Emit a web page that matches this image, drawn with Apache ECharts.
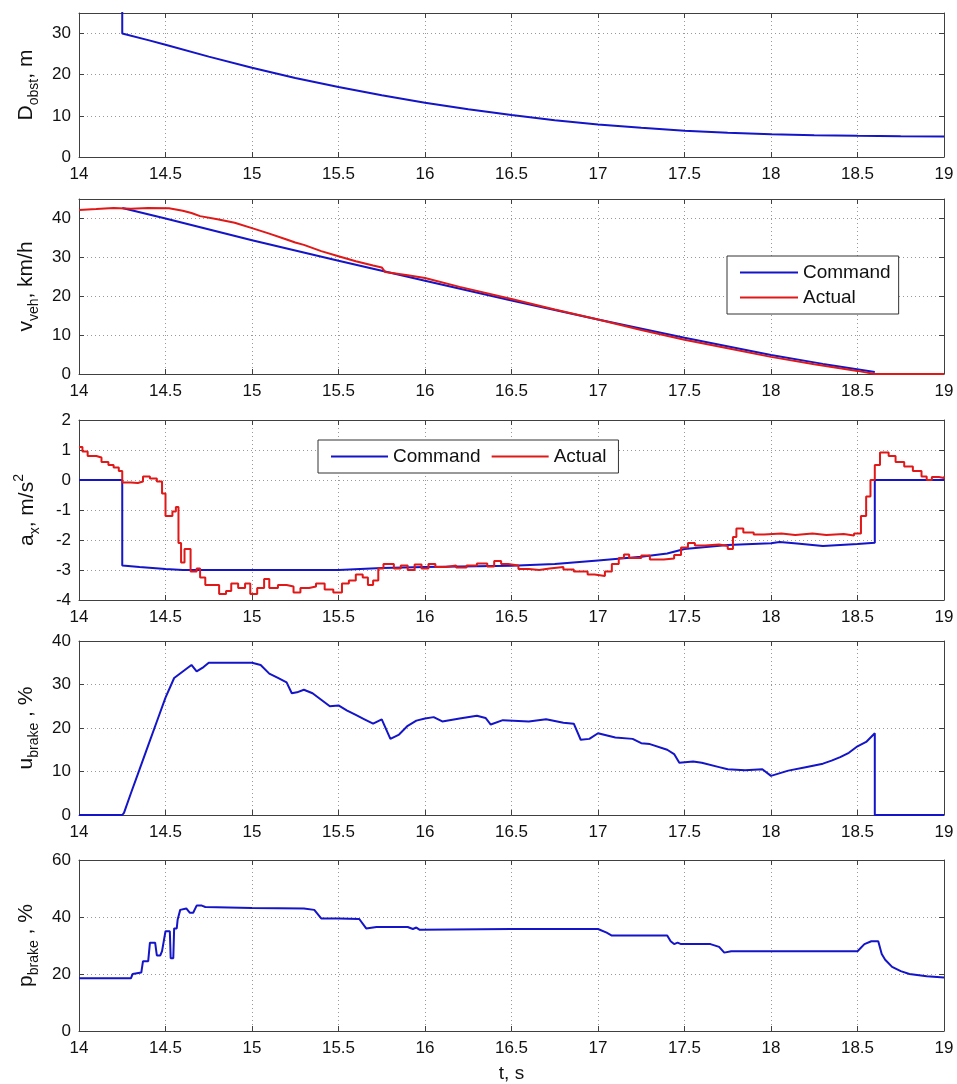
<!DOCTYPE html>
<html>
<head>
<meta charset="utf-8">
<script src="https://cdn.jsdelivr.net/npm/echarts@6/dist/echarts.min.js"></script>
<style>
  html, body { margin: 0; padding: 0; background: #ffffff; }
  #chart { width: 957px; height: 1084px; }
</style>
</head>
<body>
<div id="chart"></div>
<script>
// distance to obstacle
const tDist = [14.25, 14.25, 14.4, 14.5, 14.75, 15, 15.25, 15.5, 15.75, 16, 16.25, 16.5, 16.75, 17, 17.25, 17.5, 17.75, 18, 18.25, 18.5, 18.75, 19];
const dObst = [40, 30, 28.4, 27.3, 24.4, 21.7, 19.2, 17.0, 15.0, 13.2, 11.6, 10.2, 8.95, 7.9, 7.1, 6.4, 5.9, 5.5, 5.3, 5.15, 5.05, 5.0];

// vehicle speed
const tVCmd = [14.25, 14.5, 15, 15.5, 16, 16.5, 17, 17.5, 18, 18.3, 18.6];
const vCmd = [42.7, 40.0, 34.4, 29.1, 24.0, 18.9, 14.0, 9.3, 4.9, 2.6, 0.5];
const tVAct = [14, 14.1, 14.2, 14.3, 14.4, 14.52, 14.6, 14.65, 14.7, 14.8, 14.9, 15, 15.1, 15.2, 15.25, 15.3, 15.4, 15.5, 15.6, 15.7, 15.75, 15.77, 15.9, 16, 16.2, 16.5, 16.75, 17, 17.25, 17.5, 17.75, 18, 18.25, 18.5, 18.6, 19];
const vAct = [42.2, 42.4, 42.7, 42.5, 42.7, 42.6, 42.0, 41.4, 40.6, 39.8, 38.9, 37.5, 36.1, 34.6, 33.8, 33.2, 31.6, 30.3, 29.0, 27.9, 27.4, 26.2, 25.4, 24.7, 22.4, 19.3, 16.6, 14.0, 11.3, 8.8, 6.6, 4.4, 2.5, 0.8, 0.0, 0.0];

// longitudinal acceleration
const tACmd = [14, 14.25, 14.25, 14.35, 14.5, 14.6, 15, 15.5, 15.75, 16, 16.5, 16.75, 17, 17.25, 17.4, 17.5, 17.75, 18, 18.05, 18.15, 18.3, 18.5, 18.6, 18.6, 19];
const aCmd = [0, 0, -2.85, -2.9, -2.97, -3.0, -3.0, -3.0, -2.93, -2.9, -2.86, -2.8, -2.68, -2.56, -2.45, -2.3, -2.17, -2.11, -2.07, -2.12, -2.2, -2.13, -2.09, 0, 0];
const tAAct = [14.00, 14.02, 14.05, 14.1, 14.13, 14.17, 14.2, 14.23, 14.25, 14.3, 14.34, 14.37, 14.41, 14.45, 14.48, 14.5, 14.54, 14.56, 14.575, 14.59, 14.61, 14.645, 14.68, 14.7, 14.73, 14.81, 14.85, 14.88, 14.92, 14.96, 14.99, 15.03, 15.07, 15.1, 15.15, 15.2, 15.24, 15.28, 15.33, 15.37, 15.42, 15.47, 15.52, 15.56, 15.6, 15.64, 15.67, 15.7, 15.73, 15.76, 15.82, 15.86, 15.9, 15.94, 15.98, 16.02, 16.06, 16.12, 16.18, 16.24, 16.3, 16.36, 16.4, 16.44, 16.48, 16.54, 16.6, 16.66, 16.72, 16.8, 16.86, 16.94, 16.98, 17.04, 17.08, 17.12, 17.15, 17.18, 17.25, 17.3, 17.38, 17.44, 17.48, 17.52, 17.56, 17.62, 17.7, 17.75, 17.78, 17.8, 17.84, 17.9, 17.96, 18.06, 18.14, 18.24, 18.32, 18.42, 18.48, 18.52, 18.55, 18.575, 18.6, 18.63, 18.68, 18.72, 18.77, 18.82, 18.87, 18.9, 18.93, 18.97, 19];
const aAct = [1.1, 0.95, 0.8, 0.75, 0.6, 0.5, 0.42, 0.3, -0.08, -0.1, -0.05, 0.12, 0.05, -0.05, -0.45, -1.2, -1.05, -0.9, -2.1, -2.75, -2.3, -3.05, -2.95, -3.25, -3.5, -3.8, -3.7, -3.45, -3.6, -3.45, -3.8, -3.6, -3.3, -3.6, -3.5, -3.55, -3.75, -3.6, -3.55, -3.45, -3.65, -3.75, -3.45, -3.35, -3.15, -3.25, -3.5, -3.35, -2.95, -2.8, -2.95, -2.85, -3.0, -2.82, -2.95, -2.8, -2.9, -2.85, -2.92, -2.85, -2.78, -2.88, -2.7, -2.8, -2.85, -2.97, -3.0, -2.95, -2.9, -2.98, -3.05, -3.15, -3.2, -3.05, -2.8, -2.6, -2.48, -2.6, -2.52, -2.65, -2.62, -2.5, -2.25, -2.1, -2.18, -2.15, -2.2, -2.3, -1.9, -1.62, -1.75, -1.82, -1.78, -1.83, -1.78, -1.83, -1.8, -1.85, -1.78, -1.2, -0.55, 0, 0.5, 0.92, 0.8, 0.6, 0.45, 0.3, 0.12, 0.0, 0.1, 0.07, 0.12];

// brake command
const tU = [14, 14.25, 14.26, 14.3, 14.35, 14.4, 14.45, 14.5, 14.55, 14.6, 14.65, 14.68, 14.72, 14.75, 15.0, 15.05, 15.1, 15.15, 15.2, 15.23, 15.26, 15.3, 15.35, 15.4, 15.45, 15.5, 15.55, 15.6, 15.65, 15.7, 15.75, 15.8, 15.85, 15.9, 15.95, 16.0, 16.05, 16.1, 16.2, 16.3, 16.35, 16.38, 16.45, 16.6, 16.7, 16.8, 16.86, 16.9, 16.95, 17.0, 17.1, 17.2, 17.25, 17.3, 17.4, 17.44, 17.47, 17.55, 17.6, 17.7, 17.75, 17.85, 17.95, 18.0, 18.1, 18.2, 18.3, 18.35, 18.4, 18.45, 18.5, 18.55, 18.6, 18.6, 19];
const uBrake = [0, 0, 0.5, 5, 10.5, 16, 21.5, 27, 31.5, 33, 34.5, 33, 34, 35, 35, 34.5, 32.5, 31.5, 30.5, 28, 28.2, 28.8, 28, 26.5, 25, 25.2, 24, 23, 22, 21, 22, 17.5, 18.5, 20.5, 21.7, 22.2, 22.5, 21.5, 22.2, 22.8, 22.3, 20.8, 21.8, 21.5, 22, 21.2, 21, 17.3, 17.5, 18.8, 17.8, 17.5, 16.5, 16.3, 15, 14, 12, 12.3, 12, 11, 10.5, 10.3, 10.5, 9.0, 10.2, 11, 11.8, 12.5, 13.3, 14.3, 15.8, 16.8, 18.8, 0, 0];

// brake pressure
const tP = [14, 14.3, 14.31, 14.36, 14.37, 14.4, 14.41, 14.44, 14.45, 14.47, 14.48, 14.49, 14.5, 14.525, 14.53, 14.545, 14.55, 14.565, 14.57, 14.58, 14.585, 14.62, 14.64, 14.66, 14.68, 14.71, 14.73, 15.0, 15.3, 15.36, 15.4, 15.5, 15.62, 15.66, 15.72, 15.9, 15.93, 15.95, 15.97, 16.5, 17.0, 17.05, 17.08, 17.4, 17.42, 17.44, 17.46, 17.48, 17.65, 17.7, 17.73, 17.77, 18.5, 18.54, 18.58, 18.62, 18.64, 18.66, 18.7, 18.75, 18.8, 18.9, 19];
const pBrake = [18.5, 18.5, 20, 20.5, 24.5, 24.5, 31, 31, 26.5, 26.5, 28, 28, 35, 35, 25.5, 25.5, 36, 36, 39, 39, 42.5, 43, 41.5, 41.5, 44, 44, 43.5, 43.2, 43, 42.5, 39.5, 39.5, 39.3, 36, 36.5, 36.5, 35.8, 36.3, 35.5, 35.8, 35.8, 34.5, 33.5, 33.5, 31.5, 30.5, 31, 30.5, 30.5, 29.5, 27.5, 28, 28, 30.5, 31.5, 31.5, 27, 25, 22.5, 21, 20, 19.2, 18.8];

const xTicks = { min: 14, max: 19, interval: 0.5 };

const FONT = 'Liberation Sans, Arial, sans-serif';
const BOX = '#404040';
const BLUE = '#1414c8';
const RED = '#e01818';

const pairs = (ts, vs) => ts.map((t, i) => [t, vs[i]]);

const rich = {
  m: { fontSize: 21, lineHeight: 30, verticalAlign: 'middle', fontFamily: FONT, color: '#111' },
  s: { fontSize: 14, lineHeight: 14, verticalAlign: 'bottom', fontFamily: FONT, color: '#111' },
  p: { fontSize: 14, lineHeight: 14, verticalAlign: 'top', fontFamily: FONT, color: '#111' }
};

const panels = [
  { top: 13, height: 144, min: 0, max: 35, interval: 10, name: '{m|D}{s|obst}{m|, m}' },
  { top: 199, height: 175, min: 0, max: 45, interval: 10, name: '{m|v}{s|veh}{m|, km/h}' },
  { top: 420, height: 180, min: -4, max: 2, interval: 1, name: '{m|a}{s|x}{m|, m/s}{p|2}' },
  { top: 641, height: 174, min: 0, max: 40, interval: 10, name: '{m|u}{s|brake}{m| , %}' },
  { top: 860, height: 172, min: 0, max: 60, interval: 20, name: '{m|p}{s|brake}{m| , %}' }
];

const grid = [], xAxis = [], yAxis = [];
panels.forEach((p, i) => {
  grid.push({ left: 79, right: 13, top: p.top, height: p.height });
  const line = { show: true, onZero: false, lineStyle: { color: BOX, width: 1 } };
  const tick = { show: true, inside: true, length: 5, lineStyle: { color: BOX } };
  xAxis.push({
    type: 'value', gridIndex: i, position: 'bottom',
    min: xTicks.min, max: xTicks.max, interval: xTicks.interval,
    axisLine: line, axisTick: tick,
    axisLabel: { fontSize: 17, color: '#111', margin: 9, fontFamily: FONT },
    splitLine: { show: true, lineStyle: { color: '#999', type: [1, 3], width: 1 } },
    name: i === 4 ? 't, s' : '',
    nameLocation: 'middle', nameGap: 33,
    nameTextStyle: { fontSize: 19, color: '#111', fontFamily: FONT }
  });
  xAxis.push({
    type: 'value', gridIndex: i, position: 'top',
    min: xTicks.min, max: xTicks.max, interval: xTicks.interval,
    axisLine: line, axisTick: tick,
    axisLabel: { show: false }, splitLine: { show: false }
  });
  yAxis.push({
    type: 'value', gridIndex: i, position: 'left',
    min: p.min, max: p.max, interval: p.interval,
    axisLine: line, axisTick: tick,
    axisLabel: { fontSize: 17, color: '#111', margin: 8, fontFamily: FONT,
                 showMaxLabel: p.max % p.interval === 0 },
    splitLine: { show: true, lineStyle: { color: '#999', type: [1, 3], width: 1 } },
    name: p.name, nameLocation: 'middle', nameRotate: 90, nameGap: 37,
    nameTextStyle: { rich: rich, fontFamily: FONT }
  });
  yAxis.push({
    type: 'value', gridIndex: i, position: 'right',
    min: p.min, max: p.max, interval: p.interval,
    axisLine: line, axisTick: tick,
    axisLabel: { show: false }, splitLine: { show: false }
  });
});

function lineSeries(name, panel, data, color, step) {
  return {
    name: name, type: 'line',
    xAxisIndex: panel * 2, yAxisIndex: panel * 2,
    data: data, step: step || false,
    symbol: 'none', showSymbol: false, clip: true,
    itemStyle: { color: color },
    lineStyle: { color: color, width: 2 }
  };
}

const series = [
  lineSeries('D', 0, pairs(tDist, dObst), BLUE),
  lineSeries('Command', 1, pairs(tVCmd, vCmd), BLUE),
  lineSeries('Actual', 1, pairs(tVAct, vAct), RED),
  lineSeries('Command', 2, pairs(tACmd, aCmd), BLUE),
  lineSeries('Actual', 2, pairs(tAAct, aAct), RED, 'end'),
  lineSeries('u', 3, pairs(tU, uBrake), BLUE),
  lineSeries('p', 4, pairs(tP, pBrake), BLUE)
];

// legend keeps only the line sample, the symbol is hidden
const legendBase = {
  data: ['Command', 'Actual'],
  selectedMode: false,
  backgroundColor: '#ffffff',
  borderColor: '#333333', borderWidth: 1, borderRadius: 0,
  itemStyle: { opacity: 0 },
  lineStyle: { width: 2 },
  textStyle: { fontSize: 19, color: '#111', fontFamily: FONT }
};

const legend = [
  Object.assign({}, legendBase, {
    orient: 'vertical', left: 727, top: 256,
    itemWidth: 58, itemHeight: 20, itemGap: 6,
    padding: [7, 8, 7, 12]
  }),
  Object.assign({}, legendBase, {
    orient: 'horizontal', left: 318, top: 440,
    itemWidth: 57, itemHeight: 20, itemGap: 10,
    padding: [7, 12, 7, 12]
  })
];

const chart = echarts.init(document.getElementById('chart'));
chart.setOption({
  animation: false,
  backgroundColor: '#ffffff',
  grid: grid,
  xAxis: xAxis,
  yAxis: yAxis,
  legend: legend,
  series: series
});
</script>
</body>
</html>
